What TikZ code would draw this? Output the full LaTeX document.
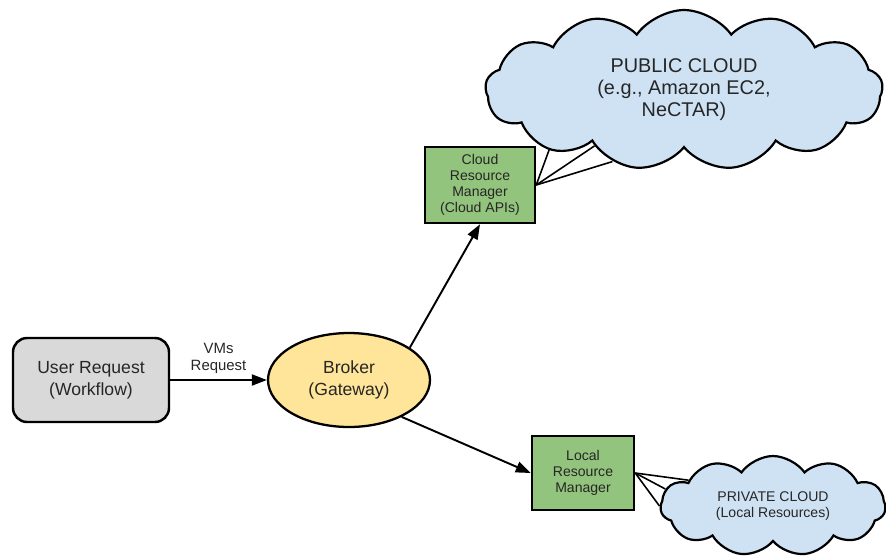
\documentclass[tikz,border=0pt]{standalone}
\usepackage{fontspec}
\setmainfont{Liberation Sans}
\usetikzlibrary{arrows.meta,shapes.geometric,shapes.symbols}
\definecolor{boxgray}{HTML}{D9D9D9}
\definecolor{brokeryellow}{HTML}{FFE599}
\definecolor{mgrgreen}{HTML}{93C47D}
\definecolor{cloudblue}{HTML}{CFE2F3}
\definecolor{txtgray}{HTML}{262626}

\begin{document}
\begin{tikzpicture}[x=0.02cm,y=-0.02cm,
    every node/.style={text=txtgray,align=center},
    request/.style={draw,line width=1.4pt,rounded corners=8pt,fill=boxgray,minimum width=3.12cm,minimum height=1.68cm,font=\fontsize{10}{12.5}\selectfont},
    gateway/.style={draw,line width=1.3pt,ellipse,fill=brokeryellow,minimum width=3.24cm,minimum height=1.88cm,inner sep=0pt,font=\fontsize{10}{12.5}\selectfont},
    manager/.style={draw,line width=1.4pt,fill=mgrgreen,inner sep=0pt,font=\fontsize{8}{9}\selectfont},
    cloudy/.style={draw,line width=1.25pt,cloud,cloud puffs=13,cloud puff arc=110,cloud ignores aspect,fill=cloudblue,inner sep=0pt},
    flow/.style={-{Triangle[length=0.3cm,width=0.22cm]},line width=1.1pt},
    callout/.style={line width=0.9pt}]
    \useasboundingbox (0,0) rectangle (886,559);
    \node[request] (user) at (91,380) {User Request\\(Workflow)};
    \node[gateway] (broker) at (349,380) {Broker\\(Gateway)};
    \node[manager,minimum width=2.2cm,minimum height=1.52cm] (crm) at (480,185) {Cloud\\Resource\\Manager\\(Cloud APIs)};
    \node[manager,minimum width=2.04cm,minimum height=1.48cm] (lrm) at (583,473) {Local\\Resource\\Manager};
    \node[cloudy,minimum width=7.95cm,minimum height=3.2cm,font=\fontsize{11.3}{12.5}\selectfont] (pub) at (684,90) {PUBLIC CLOUD\\(e.g., Amazon EC2,\\NeCTAR)};
    \node[cloudy,cloud puffs=11,minimum width=4.5cm,minimum height=2cm,font=\fontsize{8}{9}\selectfont] (priv) at (773,506) {PRIVATE CLOUD\\(Local Resources)};
    \draw[flow] (user) -- node[above,font=\fontsize{8.5}{9.5}\selectfont] {VMs\\Request} (broker);
    \draw[flow] (broker.28) -- (crm.south);
    \draw[flow] (broker.-35) -- (lrm.west);
    \draw[callout] (crm.east) -- (pub.204);
    \draw[callout] (crm.east) -- (pub.212);
    \draw[callout] (crm.east) -- (pub.225);
    \draw[callout] (lrm.east) -- (priv.163);
    \draw[callout] (lrm.east) -- (priv.171);
    \draw[callout] (lrm.east) -- (priv.180);
\end{tikzpicture}
\end{document}
